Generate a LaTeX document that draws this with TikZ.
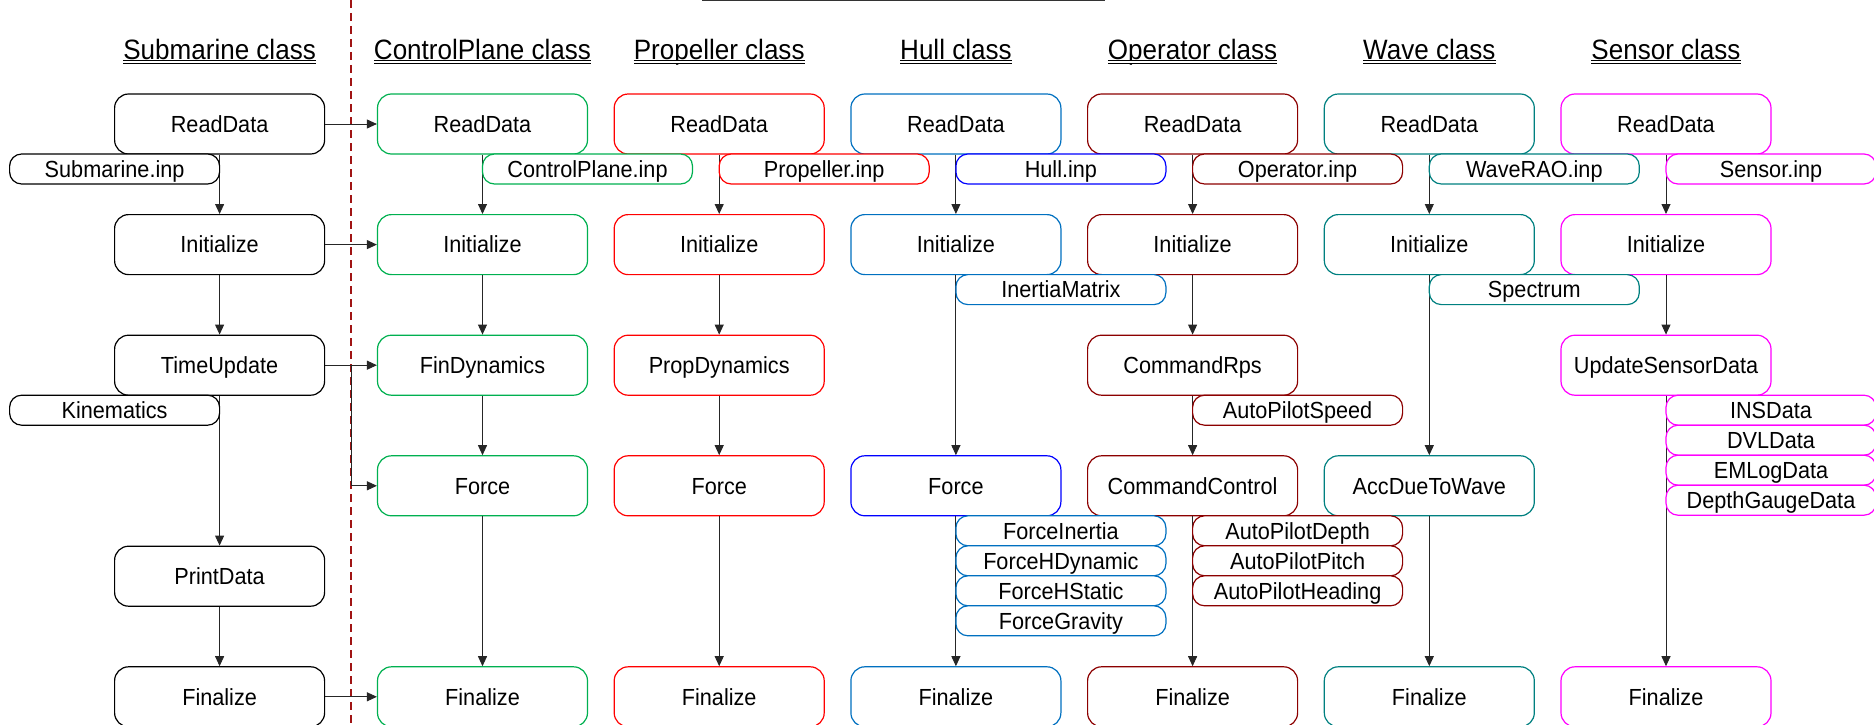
\documentclass[tikz,border=0pt]{standalone}
\usepackage{fontspec}
\setmainfont[FakeStretch=0.93]{Liberation Sans}
\usetikzlibrary{calc, arrows.meta}

\definecolor{cpgreen}{RGB}{0,176,80}
\definecolor{propred}{RGB}{255,0,0}
\definecolor{hullblue}{RGB}{0,112,192}
\definecolor{pureblue}{RGB}{0,0,255}
\definecolor{opred}{RGB}{140,0,0}
\definecolor{waveteal}{RGB}{0,128,128}
\definecolor{sensmag}{RGB}{255,0,255}
\definecolor{dividerred}{RGB}{160,20,20}

\begin{document}
\begin{tikzpicture}[
					x=1pt, y=-1pt,
					methodbox/.style={
						draw,
						rectangle,
						rounded corners=14pt,
						fill=white,
						inner sep=0pt,
						text height=20pt,
						text depth=3.4pt,
						minimum width=210pt,
						minimum height=60pt,
						line width=1.2pt,
						font=\fontsize{23.3}{28}\selectfont
					},
					databox/.style={
						draw,
						rectangle,
						rounded corners=12pt,
						fill=white,
						inner sep=0pt,
						text height=20pt,
						text depth=3.4pt,
						minimum width=210pt,
						minimum height=30pt,
						line width=1.2pt,
						font=\fontsize{23.3}{28}\selectfont
					},
					classtitle/.style={
						anchor=base,
						inner sep=0pt,
						font=\fontsize{28}{32}\selectfont
					},
					titleline/.style={
						double,
						double distance=1.8pt,
						line width=0.8pt
					},
					flow/.style={
						-{Triangle[length=10pt, width=9pt]},
						line width=0.9pt,
						color=black!85
					}
					]
					\useasboundingbox (0,0) rectangle (1874,725);
					
					% Cut-off heading line and class divider
					\draw [line width=0.9pt, color=black!80] (702,0.8) -- (1105,0.8);
					\draw [line width=1.8pt, color=dividerred, dash pattern=on 8pt off 5pt] (351.3,0) -- (351.3,725);
					
					% Class titles
					\node (subtitle) [classtitle] at (219.6,59.3) {Submarine class};
					\node (cptitle) [classtitle] at (482.5,59.3) {ControlPlane class};
					\node (proptitle) [classtitle] at (719.2,59.3) {Propeller class};
					\node (hulltitle) [classtitle] at (955.9,59.3) {Hull class};
					\node (optitle) [classtitle] at (1192.6,59.3) {Operator class};
					\node (wavetitle) [classtitle] at (1429.3,59.3) {Wave class};
					\node (senstitle) [classtitle] at (1666,59.3) {Sensor class};
					\draw [titleline] ([yshift=-2.7pt]subtitle.base west) -- ([yshift=-2.7pt]subtitle.base east);
					\draw [titleline] ([yshift=-2.7pt]cptitle.base west) -- ([yshift=-2.7pt]cptitle.base east);
					\draw [titleline] ([yshift=-2.7pt]proptitle.base west) -- ([yshift=-2.7pt]proptitle.base east);
					\draw [titleline] ([yshift=-2.7pt]hulltitle.base west) -- ([yshift=-2.7pt]hulltitle.base east);
					\draw [titleline] ([yshift=-2.7pt]optitle.base west) -- ([yshift=-2.7pt]optitle.base east);
					\draw [titleline] ([yshift=-2.7pt]wavetitle.base west) -- ([yshift=-2.7pt]wavetitle.base east);
					\draw [titleline] ([yshift=-2.7pt]senstitle.base west) -- ([yshift=-2.7pt]senstitle.base east);
					
					% Submarine methods
					\node (subread) [methodbox] at (219.6,124) {ReadData};
					\node (subinit) [methodbox] at (219.6,244.6) {Initialize};
					\node (subtime) [methodbox] at (219.6,365.2) {TimeUpdate};
					\node (subprint) [methodbox] at (219.6,576.2) {PrintData};
					\node (subfinal) [methodbox] at (219.6,696.8) {Finalize};
					
					% ControlPlane methods
					\node (cpread) [methodbox, draw=cpgreen] at (482.5,124) {ReadData};
					\node (cpinit) [methodbox, draw=cpgreen] at (482.5,244.6) {Initialize};
					\node (cpfin) [methodbox, draw=cpgreen] at (482.5,365.2) {FinDynamics};
					\node (cpforce) [methodbox, draw=cpgreen] at (482.5,485.8) {Force};
					\node (cpfinal) [methodbox, draw=cpgreen] at (482.5,696.8) {Finalize};
					
					% Propeller methods
					\node (propread) [methodbox, draw=propred] at (719.2,124) {ReadData};
					\node (propinit) [methodbox, draw=propred] at (719.2,244.6) {Initialize};
					\node (propdyn) [methodbox, draw=propred] at (719.2,365.2) {PropDynamics};
					\node (propforce) [methodbox, draw=propred] at (719.2,485.8) {Force};
					\node (propfinal) [methodbox, draw=propred] at (719.2,696.8) {Finalize};
					
					% Hull methods
					\node (hullread) [methodbox, draw=hullblue] at (955.9,124) {ReadData};
					\node (hullinit) [methodbox, draw=hullblue] at (955.9,244.6) {Initialize};
					\node (hullforce) [methodbox, draw=pureblue] at (955.9,485.8) {Force};
					\node (hullfinal) [methodbox, draw=hullblue] at (955.9,696.8) {Finalize};
					
					% Operator methods
					\node (opread) [methodbox, draw=opred] at (1192.6,124) {ReadData};
					\node (opinit) [methodbox, draw=opred] at (1192.6,244.6) {Initialize};
					\node (oprps) [methodbox, draw=opred] at (1192.6,365.2) {CommandRps};
					\node (opcontrol) [methodbox, draw=opred] at (1192.6,485.8) {CommandControl};
					\node (opfinal) [methodbox, draw=opred] at (1192.6,696.8) {Finalize};
					
					% Wave methods
					\node (waveread) [methodbox, draw=waveteal] at (1429.3,124) {ReadData};
					\node (waveinit) [methodbox, draw=waveteal] at (1429.3,244.6) {Initialize};
					\node (waveacc) [methodbox, draw=waveteal] at (1429.3,485.8) {AccDueToWave};
					\node (wavefinal) [methodbox, draw=waveteal] at (1429.3,696.8) {Finalize};
					
					% Sensor methods
					\node (sensread) [methodbox, draw=sensmag] at (1666,124) {ReadData};
					\node (sensinit) [methodbox, draw=sensmag] at (1666,244.6) {Initialize};
					\node (sensupdate) [methodbox, draw=sensmag] at (1666,365.2) {UpdateSensorData};
					\node (sensfinal) [methodbox, draw=sensmag] at (1666,696.8) {Finalize};
					
					% Calls within each class
					\draw [flow] (subread) -- (subinit); \draw [flow] (subinit) -- (subtime);
					\draw [flow] (subtime) -- (subprint); \draw [flow] (subprint) -- (subfinal);
					\draw [flow] (cpread) -- (cpinit); \draw [flow] (cpinit) -- (cpfin);
					\draw [flow] (cpfin) -- (cpforce); \draw [flow] (cpforce) -- (cpfinal);
					\draw [flow] (propread) -- (propinit); \draw [flow] (propinit) -- (propdyn);
					\draw [flow] (propdyn) -- (propforce); \draw [flow] (propforce) -- (propfinal);
					\draw [flow] (hullread) -- (hullinit); \draw [flow] (hullinit) -- (hullforce);
					\draw [flow] (hullforce) -- (hullfinal);
					\draw [flow] (opread) -- (opinit); \draw [flow] (opinit) -- (oprps);
					\draw [flow] (oprps) -- (opcontrol); \draw [flow] (opcontrol) -- (opfinal);
					\draw [flow] (waveread) -- (waveinit); \draw [flow] (waveinit) -- (waveacc);
					\draw [flow] (waveacc) -- (wavefinal);
					\draw [flow] (sensread) -- (sensinit); \draw [flow] (sensinit) -- (sensupdate);
					\draw [flow] (sensupdate) -- (sensfinal);
					
					% Calls from Submarine to the other classes
					\coordinate (branch) at (351.3,365.2);
					\draw [flow] (subread) -- (cpread);
					\draw [flow] (subinit) -- (cpinit);
					\draw [flow] (subtime) -- (cpfin);
					\draw [flow] (branch) |- (cpforce);
					\draw [flow] (subfinal) -- (cpfinal);
					
					% Data and sub-routines
					\node (subinp) [databox] at (114.6,169) {Submarine.inp};
					\node (kinematics) [databox] at (114.6,410.2) {Kinematics};
					\node (cpinp) [databox, draw=cpgreen] at (587.5,169) {ControlPlane.inp};
					\node (propinp) [databox, draw=propred] at (824.2,169) {Propeller.inp};
					\node (hullinp) [databox, draw=pureblue] at (1060.9,169) {Hull.inp};
					\node (opinp) [databox, draw=opred] at (1297.6,169) {Operator.inp};
					\node (waveinp) [databox, draw=waveteal] at (1534.3,169) {WaveRAO.inp};
					\node (sensinp) [databox, draw=sensmag] at (1771,169) {Sensor.inp};
					\node (inertia) [databox, draw=hullblue] at (1060.9,289.6) {InertiaMatrix};
					\node (spectrum) [databox, draw=waveteal] at (1534.3,289.6) {Spectrum};
					\node (apspeed) [databox, draw=opred] at (1297.6,410.2) {AutoPilotSpeed};
					\node (insdata) [databox, draw=sensmag] at (1771,410.2) {INSData};
					\node (dvldata) [databox, draw=sensmag] at (1771,440.2) {DVLData};
					\node (emlogdata) [databox, draw=sensmag] at (1771,470.2) {EMLogData};
					\node (depthdata) [databox, draw=sensmag] at (1771,500.2) {DepthGaugeData};
					\node (finertia) [databox, draw=hullblue] at (1060.9,530.8) {ForceInertia};
					\node (fhdynamic) [databox, draw=hullblue] at (1060.9,560.8) {ForceHDynamic};
					\node (fhstatic) [databox, draw=hullblue] at (1060.9,590.8) {ForceHStatic};
					\node (fgravity) [databox, draw=hullblue] at (1060.9,620.8) {ForceGravity};
					\node (apdepth) [databox, draw=opred] at (1297.6,530.8) {AutoPilotDepth};
					\node (appitch) [databox, draw=opred] at (1297.6,560.8) {AutoPilotPitch};
					\node (apheading) [databox, draw=opred] at (1297.6,590.8) {AutoPilotHeading};
					
				\end{tikzpicture}
\end{document}
